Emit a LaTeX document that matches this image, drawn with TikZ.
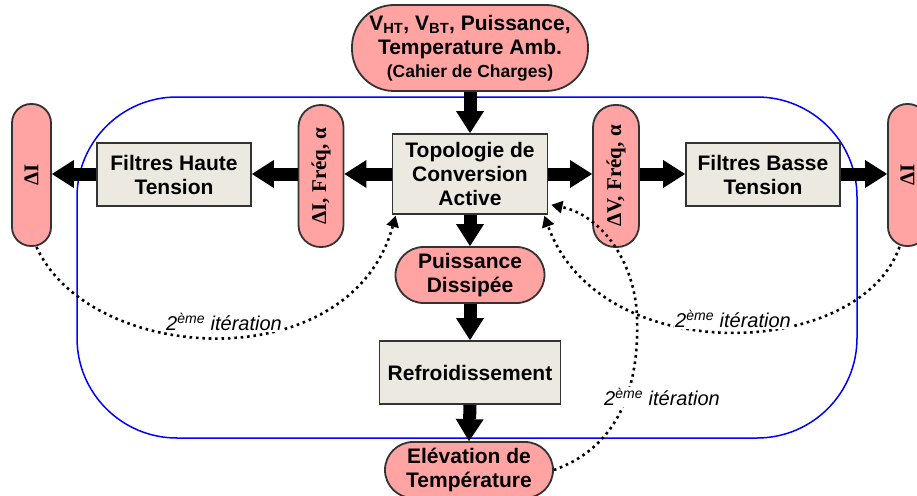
\documentclass[tikz,border=0pt]{standalone}
\usepackage{fontspec}
\setmainfont{Liberation Sans}
\newfontfamily\serifb{Liberation Serif}
\usepackage{graphicx}
\usetikzlibrary{arrows.meta,calc}
\definecolor{pinkfill}{HTML}{FFA3A3}
\definecolor{boxfill}{HTML}{ECEAE0}
\definecolor{edgecol}{HTML}{333333}
\begin{document}
\begin{tikzpicture}[x=1pt,y=-1pt,
  box/.style={draw=edgecol,line width=1.8pt,fill=boxfill,align=center,inner sep=0pt,font=\bfseries\fontsize{21}{24}\selectfont},
  pill/.style={draw=edgecol,line width=1.8pt,fill=pinkfill,align=center,inner sep=0pt,font=\bfseries\fontsize{21}{24}\selectfont},
  vpill/.style={pill,minimum width=39pt,minimum height=142pt,rounded corners=19pt,font=\serifb\bfseries\fontsize{21}{24}\selectfont},
  bigarrow/.style={line width=13pt,-{Triangle[width=28pt,length=22pt,line width=0pt]}},
  iter/.style={line width=2.6pt,dash pattern=on 2.6pt off 3.8pt,-{Triangle[width=13pt,length=11pt,line width=0pt]}},
  iterlabel/.style={fill=white,inner sep=1pt,font=\itshape\fontsize{20}{24}\selectfont}
]
\useasboundingbox (0,0) rectangle (917,495);
\draw[blue,line width=1.5pt,rounded corners=100pt] (77,97) rectangle (857,438);

\node[pill,minimum width=236pt,minimum height=86pt,rounded corners=42pt] (spec) at (470,48)
  {V\textsubscript{HT}, V\textsubscript{BT}, Puissance,\\Temperature Amb.\\[-1pt]{\fontsize{17.5}{20}\selectfont (Cahier de Charges)}};
\node[box,minimum width=155pt,minimum height=80pt] (topo) at (470,174) {Topologie de\\Conversion\\Active};
\node[box,minimum width=154pt,minimum height=63pt] (fht) at (174,174.5) {Filtres Haute\\Tension};
\node[box,minimum width=154pt,minimum height=63pt] (fbt) at (763,174.5) {Filtres Basse\\Tension};
\node[vpill,minimum width=45pt,rounded corners=22pt] (dim) at (321,176) {\rotatebox{90}{ΔI, Fréq, α}};
\node[vpill,minimum width=46pt,rounded corners=22pt] (dv) at (616,176) {\rotatebox{90}{ΔV, Fréq, α}};
\node[vpill] (dil) at (31.5,175) {\rotatebox{90}{ΔI}};
\node[vpill] (dir) at (907.5,175) {\rotatebox{90}{ΔI}};
\node[pill,minimum width=149pt,minimum height=56pt,rounded corners=28pt] (pd) at (470,275) {Puissance\\Dissipée};
\node[box,minimum width=181pt,minimum height=63pt] (ref) at (470,372.5) {Refroidissement};
\node[pill,minimum width=168pt,minimum height=56pt,rounded corners=28pt] (elev) at (469,470) {Elévation de\\Température};

\draw[bigarrow] (spec.south) -- (topo.north);
\draw[bigarrow] (topo.south) -- (pd.north);
\draw[bigarrow] (pd.south) -- (ref.north);
\draw[bigarrow] (ref.south) -- (elev.north);
\draw[bigarrow] (topo.west) -- (topo.west -| dim.east);
\draw[bigarrow] (dim.west |- topo.west) -- (fht.east |- topo.west);
\draw[bigarrow] (fht.west |- topo.west) -- (dil.east |- topo.west);
\draw[bigarrow] (topo.east) -- (topo.east -| dv.west);
\draw[bigarrow] (dv.east |- topo.east) -- (fbt.west |- topo.east);
\draw[bigarrow] (fbt.east |- topo.east) -- (dir.west |- topo.east);

\coordinate (c3mid) at (637,317);
\draw[iter] ([xshift=5pt]dil.south) .. controls (90,365) and (350,380) .. ([xshift=4pt,yshift=-1pt]topo.south west);
\draw[iter] ([xshift=-8pt]dir.south) .. controls (860,360) and (600,370) .. ([xshift=-4pt,yshift=-1pt]topo.south east);
\draw[iter] (elev.east) .. controls (610,450) and (640,400) .. (c3mid) .. controls (635,260) and (600,215) .. ([xshift=3pt,yshift=10pt]topo.south east);

\node[iterlabel] (l1) at (224,322) {2\textsuperscript{ème} itération};
\node[iterlabel] (l2) at (733,319) {2\textsuperscript{ème} itération};
\node[iterlabel] (l3) at (662,397) {2\textsuperscript{ème} itération};
\end{tikzpicture}
\end{document}
